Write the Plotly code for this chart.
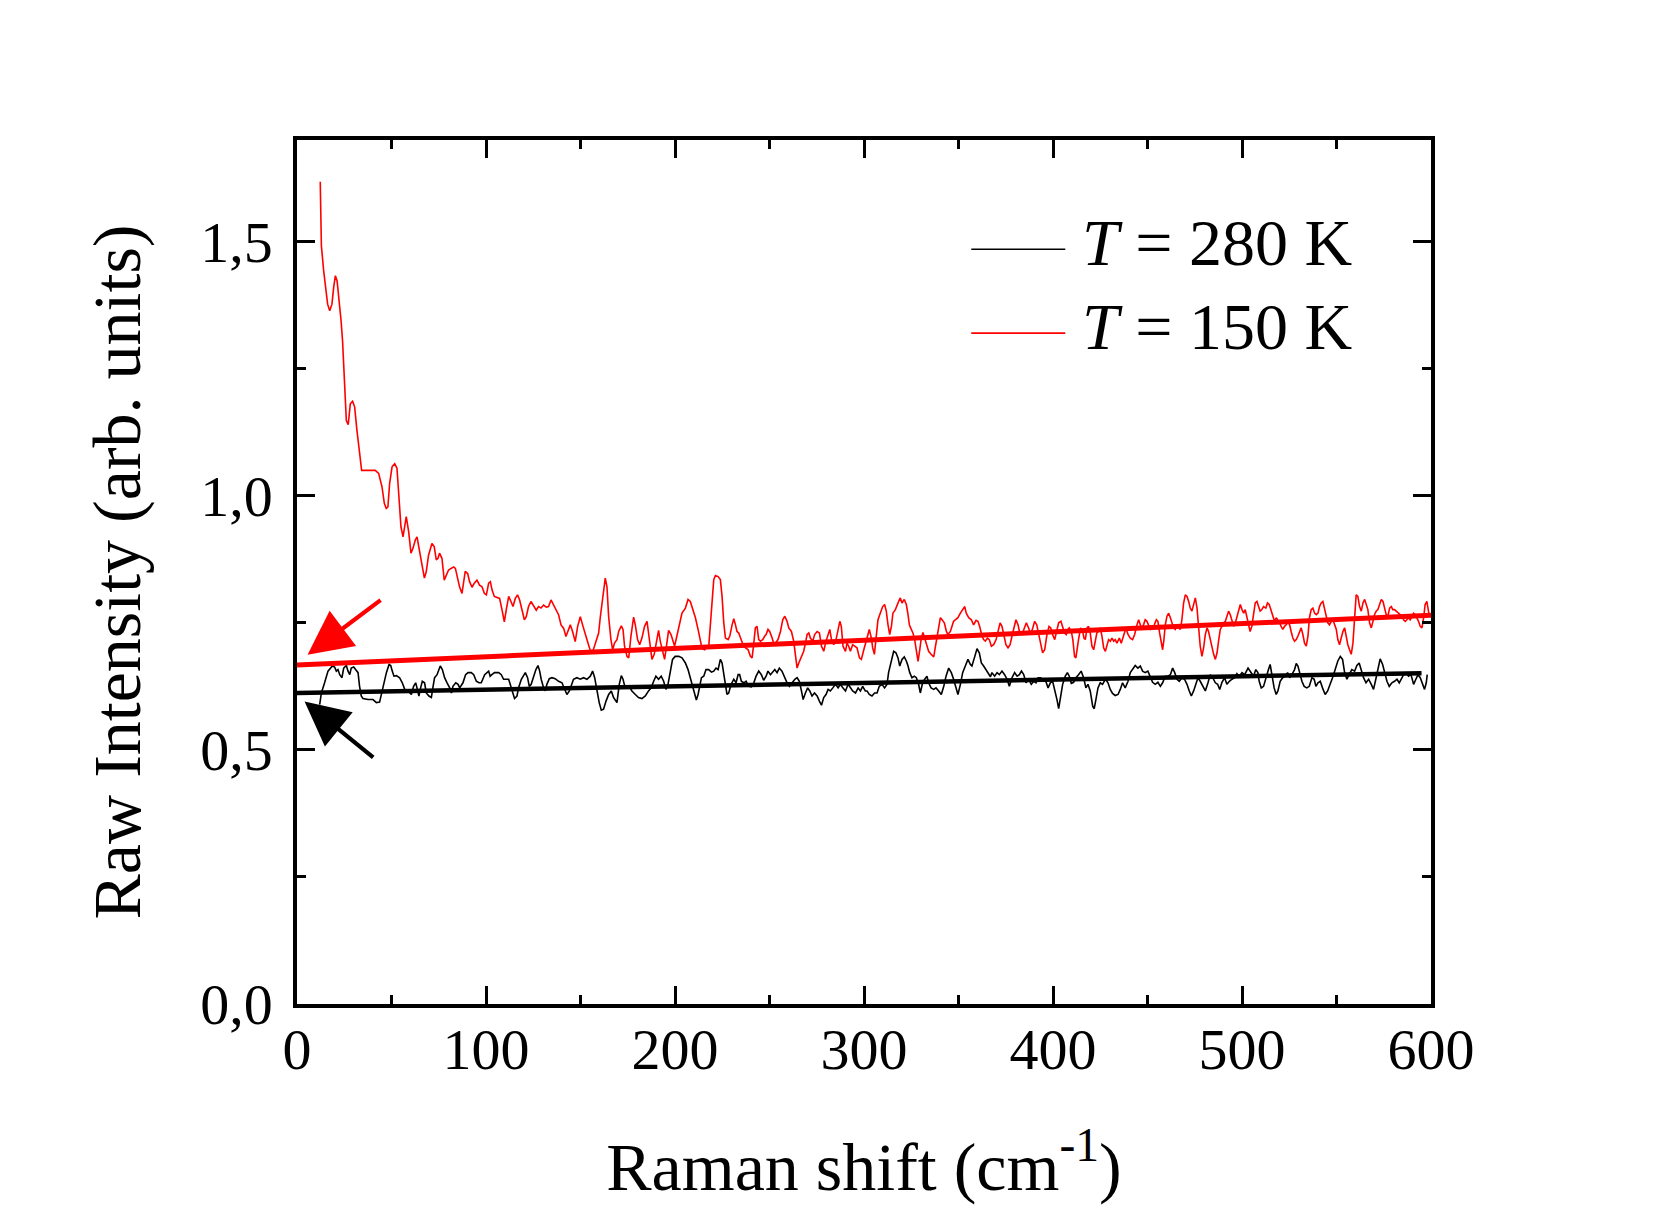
import plotly.graph_objects as go

# ---------------- data ----------------
# T = 280 K raw spectrum (x: Raman shift cm-1, y: intensity)
black_280K = [
    (12.0, 0.589), (12.9, 0.612), (14.6, 0.632), (16.4, 0.655), (18.7, 0.665), (19.9, 0.663),
    (20.8, 0.655), (21.7, 0.658), (22.6, 0.648), (23.8, 0.642), (24.7, 0.661), (26.1, 0.666),
    (27.0, 0.655), (27.9, 0.648), (28.7, 0.661), (30.0, 0.663), (31.0, 0.658), (32.3, 0.652),
    (33.1, 0.625), (34.0, 0.606), (34.9, 0.601), (37.6, 0.599), (40.2, 0.599), (42.0, 0.593),
    (43.7, 0.594), (44.6, 0.609), (45.9, 0.625), (47.3, 0.652), (48.7, 0.668), (49.6, 0.666),
    (50.4, 0.655), (51.3, 0.645), (52.6, 0.646), (54.3, 0.642), (55.7, 0.632), (57.0, 0.619),
    (58.7, 0.616), (60.5, 0.609), (61.7, 0.625), (62.8, 0.632), (63.7, 0.619), (64.5, 0.606),
    (65.2, 0.619), (66.3, 0.635), (67.5, 0.632), (68.4, 0.612), (69.8, 0.606), (71.1, 0.603),
    (72.0, 0.625), (72.8, 0.642), (74.1, 0.648), (75.8, 0.665), (76.9, 0.658), (78.1, 0.642),
    (79.4, 0.632), (80.8, 0.622), (81.7, 0.612), (82.5, 0.625), (84.0, 0.632), (85.2, 0.629),
    (86.1, 0.622), (87.8, 0.632), (89.2, 0.648), (90.5, 0.652), (92.2, 0.652), (93.5, 0.648),
    (94.9, 0.635), (96.3, 0.632), (97.5, 0.632), (99.3, 0.648), (101.4, 0.655), (102.2, 0.645),
    (103.1, 0.648), (104.5, 0.652), (106.7, 0.652), (108.1, 0.648), (109.3, 0.639), (110.5, 0.639),
    (112.0, 0.639), (112.8, 0.629), (113.7, 0.616), (115.1, 0.601), (116.4, 0.606), (117.2, 0.622),
    (118.7, 0.639), (119.9, 0.648), (120.8, 0.652), (122.0, 0.642), (122.9, 0.625), (123.9, 0.629),
    (125.2, 0.645), (126.4, 0.658), (127.5, 0.666), (128.4, 0.655), (129.2, 0.639), (130.5, 0.622),
    (131.4, 0.616), (132.2, 0.629), (133.5, 0.640), (134.9, 0.642), (136.6, 0.640), (138.4, 0.635),
    (140.2, 0.632), (141.9, 0.616), (142.8, 0.609), (144.1, 0.616), (145.1, 0.625), (146.3, 0.639),
    (148.1, 0.642), (149.9, 0.639), (151.6, 0.642), (153.4, 0.639), (155.2, 0.645), (156.4, 0.655),
    (157.5, 0.642), (158.7, 0.616), (159.9, 0.593), (161.0, 0.578), (162.2, 0.580), (163.5, 0.596),
    (164.9, 0.609), (166.3, 0.616), (167.5, 0.603), (169.3, 0.593), (170.5, 0.629), (171.6, 0.646),
    (172.5, 0.639), (173.3, 0.627), (174.6, 0.622), (175.8, 0.625), (177.2, 0.616), (179.0, 0.609),
    (180.7, 0.603), (182.5, 0.601), (184.3, 0.606), (186.0, 0.616), (187.4, 0.622), (188.7, 0.635),
    (189.9, 0.645), (191.3, 0.639), (192.7, 0.645), (194.0, 0.635), (195.2, 0.619), (196.3, 0.629),
    (197.5, 0.658), (198.7, 0.678), (200.1, 0.684), (202.0, 0.684), (203.7, 0.681), (205.5, 0.671),
    (206.9, 0.658), (208.1, 0.642), (209.4, 0.622), (210.4, 0.606), (211.3, 0.598), (212.2, 0.609),
    (212.9, 0.625), (214.0, 0.642), (215.2, 0.645), (216.4, 0.658), (217.8, 0.658), (219.3, 0.653),
    (220.5, 0.655), (221.7, 0.661), (222.8, 0.658), (224.0, 0.678), (224.9, 0.671), (225.8, 0.648),
    (226.7, 0.622), (227.5, 0.609), (228.4, 0.612), (229.7, 0.629), (231.1, 0.639), (232.3, 0.632),
    (233.4, 0.648), (234.2, 0.648), (235.1, 0.635), (236.4, 0.632), (237.6, 0.635), (239.0, 0.625),
    (240.4, 0.624), (241.7, 0.632), (242.9, 0.645), (244.3, 0.655), (245.7, 0.648), (246.9, 0.637),
    (248.2, 0.645), (249.2, 0.655), (250.5, 0.648), (251.4, 0.652), (252.8, 0.658), (254.0, 0.652),
    (255.2, 0.661), (256.6, 0.655), (258.1, 0.642), (259.3, 0.632), (260.5, 0.625), (261.9, 0.633),
    (263.4, 0.639), (264.6, 0.642), (265.8, 0.635), (266.9, 0.616), (267.8, 0.599), (269.0, 0.612),
    (270.2, 0.622), (271.3, 0.616), (272.5, 0.606), (273.8, 0.612), (275.2, 0.606), (276.4, 0.596),
    (277.5, 0.588), (278.7, 0.603), (279.9, 0.609), (281.0, 0.619), (282.2, 0.616), (283.5, 0.622),
    (284.9, 0.629), (286.3, 0.622), (287.5, 0.629), (288.8, 0.622), (290.2, 0.616), (291.6, 0.629),
    (292.8, 0.622), (294.0, 0.616), (295.5, 0.612), (296.9, 0.622), (298.1, 0.616), (299.3, 0.625),
    (300.7, 0.616), (301.6, 0.616), (302.8, 0.609), (304.2, 0.606), (305.6, 0.612), (306.9, 0.612),
    (308.1, 0.625), (309.5, 0.629), (310.9, 0.622), (312.2, 0.629), (313.0, 0.652), (314.5, 0.678),
    (315.7, 0.694), (316.9, 0.691), (318.0, 0.681), (318.9, 0.665), (320.1, 0.678), (321.3, 0.683),
    (322.4, 0.675), (323.3, 0.665), (324.2, 0.652), (325.4, 0.642), (326.6, 0.645), (327.7, 0.642),
    (328.9, 0.629), (329.8, 0.612), (331.0, 0.632), (332.1, 0.639), (333.3, 0.645), (334.2, 0.632),
    (335.5, 0.622), (336.9, 0.619), (338.1, 0.622), (339.5, 0.616), (340.9, 0.609), (342.2, 0.625),
    (343.4, 0.645), (344.8, 0.661), (346.2, 0.652), (347.4, 0.639), (348.7, 0.619), (349.7, 0.609),
    (351.0, 0.629), (352.2, 0.652), (353.6, 0.665), (355.0, 0.678), (356.3, 0.668), (357.1, 0.665),
    (358.4, 0.681), (359.8, 0.699), (361.0, 0.691), (362.1, 0.671), (363.3, 0.665), (364.6, 0.658),
    (365.6, 0.652), (366.9, 0.644), (367.7, 0.652), (369.1, 0.645), (370.4, 0.652), (371.6, 0.648),
    (373.0, 0.655), (374.4, 0.648), (375.7, 0.639), (376.9, 0.625), (378.3, 0.642), (379.7, 0.652),
    (381.0, 0.645), (382.2, 0.648), (383.3, 0.655), (384.5, 0.648), (385.7, 0.632), (387.1, 0.639),
    (388.5, 0.629), (389.8, 0.635), (391.0, 0.632), (392.1, 0.642), (393.3, 0.642), (394.5, 0.639),
    (396.0, 0.637), (397.4, 0.622), (398.6, 0.632), (399.8, 0.635), (400.9, 0.619), (402.1, 0.599),
    (403.0, 0.581), (403.8, 0.599), (405.1, 0.629), (406.5, 0.645), (407.6, 0.652), (408.6, 0.645),
    (409.7, 0.631), (410.9, 0.633), (412.1, 0.642), (413.5, 0.648), (414.9, 0.655), (416.2, 0.642),
    (417.4, 0.622), (418.5, 0.629), (419.7, 0.616), (421.0, 0.586), (421.8, 0.581), (422.7, 0.599),
    (423.8, 0.622), (425.0, 0.632), (426.2, 0.629), (427.7, 0.639), (429.1, 0.632), (430.3, 0.619),
    (431.5, 0.611), (432.9, 0.607), (434.4, 0.609), (435.6, 0.619), (436.8, 0.632), (438.2, 0.622),
    (439.7, 0.635), (440.9, 0.652), (442.1, 0.658), (443.5, 0.666), (444.9, 0.661), (446.2, 0.665),
    (447.4, 0.655), (448.8, 0.652), (450.2, 0.655), (451.5, 0.645), (452.7, 0.633), (454.1, 0.629),
    (455.5, 0.633), (456.8, 0.625), (458.0, 0.632), (459.4, 0.645), (460.8, 0.645), (462.1, 0.648),
    (463.3, 0.661), (464.4, 0.652), (465.6, 0.639), (466.8, 0.635), (468.2, 0.642), (469.6, 0.639),
    (470.9, 0.629), (472.1, 0.616), (473.2, 0.606), (474.4, 0.616), (475.6, 0.632), (476.7, 0.642),
    (477.9, 0.635), (479.2, 0.625), (480.6, 0.616), (482.0, 0.632), (483.2, 0.648), (484.5, 0.642),
    (485.9, 0.632), (487.1, 0.629), (488.2, 0.619), (489.4, 0.633), (490.8, 0.642), (492.0, 0.629),
    (493.3, 0.635), (494.7, 0.639), (496.1, 0.642), (497.3, 0.650), (498.6, 0.645), (500.0, 0.652),
    (501.4, 0.648), (503.2, 0.661), (504.9, 0.653), (506.1, 0.645), (507.3, 0.658), (508.4, 0.652),
    (509.1, 0.635), (510.2, 0.622), (511.4, 0.625), (512.6, 0.642), (514.0, 0.658), (514.9, 0.668),
    (515.8, 0.648), (517.0, 0.622), (518.1, 0.609), (519.0, 0.616), (520.2, 0.635), (521.5, 0.642),
    (522.9, 0.645), (524.1, 0.652), (525.2, 0.642), (526.4, 0.648), (527.8, 0.658), (528.7, 0.670),
    (529.6, 0.665), (530.5, 0.652), (531.7, 0.635), (532.9, 0.625), (534.3, 0.622), (535.6, 0.625),
    (537.0, 0.642), (538.2, 0.639), (539.1, 0.625), (540.2, 0.632), (541.4, 0.635), (542.6, 0.622),
    (544.0, 0.609), (545.3, 0.616), (546.7, 0.629), (547.9, 0.642), (549.3, 0.658), (550.7, 0.675),
    (552.0, 0.684), (553.2, 0.678), (554.3, 0.652), (555.5, 0.639), (556.7, 0.648), (558.1, 0.658),
    (559.6, 0.655), (560.8, 0.666), (562.0, 0.671), (563.1, 0.658), (564.3, 0.642), (565.6, 0.632),
    (567.0, 0.639), (568.4, 0.629), (569.6, 0.619), (570.8, 0.639), (571.9, 0.661), (573.1, 0.679),
    (574.4, 0.668), (575.4, 0.652), (576.7, 0.635), (577.9, 0.625), (579.3, 0.632), (580.7, 0.635),
    (582.0, 0.639), (583.2, 0.632), (584.3, 0.639), (585.5, 0.648), (586.7, 0.652), (588.1, 0.645),
    (589.4, 0.648), (590.8, 0.629), (592.0, 0.639), (593.1, 0.648), (594.3, 0.642), (595.5, 0.629),
    (596.6, 0.619), (597.5, 0.632), (598.0, 0.648),
]

# T = 150 K raw spectrum
red_150K = [
    (12.3, 1.618), (12.5, 1.541), (12.9, 1.492), (14.1, 1.443), (15.3, 1.400), (16.2, 1.377),
    (17.3, 1.364), (18.5, 1.377), (19.4, 1.410), (20.3, 1.433), (21.2, 1.423), (22.0, 1.397),
    (23.3, 1.345), (24.1, 1.305), (24.7, 1.247), (25.4, 1.181), (26.1, 1.148), (27.1, 1.140),
    (28.2, 1.181), (29.4, 1.186), (30.5, 1.175), (31.7, 1.129), (33.0, 1.090), (34.2, 1.050),
    (37.0, 1.050), (41.4, 1.050), (43.2, 1.044), (45.0, 1.017), (46.2, 0.985), (47.2, 0.975),
    (48.1, 0.978), (49.0, 1.024), (50.3, 1.057), (51.7, 1.063), (52.9, 1.054), (53.8, 1.005),
    (55.0, 0.939), (56.1, 0.919), (56.9, 0.942), (57.8, 0.959), (59.1, 0.929), (60.3, 0.887),
    (61.4, 0.897), (62.6, 0.913), (63.5, 0.919), (64.9, 0.890), (66.1, 0.864), (67.4, 0.838),
    (68.4, 0.851), (69.6, 0.883), (71.4, 0.906), (72.6, 0.900), (73.7, 0.874), (74.6, 0.877),
    (75.4, 0.887), (76.7, 0.877), (77.9, 0.834), (79.0, 0.844), (80.2, 0.854), (81.5, 0.857),
    (82.9, 0.860), (83.8, 0.857), (84.7, 0.841), (86.0, 0.821), (87.3, 0.808), (88.1, 0.834),
    (89.0, 0.851), (90.3, 0.847), (91.3, 0.831), (92.6, 0.820), (93.8, 0.828), (95.2, 0.834),
    (96.6, 0.824), (97.9, 0.821), (99.1, 0.808), (100.2, 0.805), (101.4, 0.828), (102.3, 0.831),
    (103.2, 0.815), (104.4, 0.802), (105.8, 0.800), (107.2, 0.798), (108.5, 0.775), (109.7, 0.752),
    (110.7, 0.775), (112.0, 0.802), (113.2, 0.792), (114.3, 0.782), (115.5, 0.798), (116.7, 0.805),
    (117.8, 0.795), (119.0, 0.775), (120.3, 0.756), (121.3, 0.762), (122.5, 0.782), (123.8, 0.792),
    (125.2, 0.782), (126.6, 0.775), (127.8, 0.782), (129.1, 0.779), (130.5, 0.785), (131.9, 0.781),
    (133.1, 0.782), (134.4, 0.795), (135.8, 0.785), (137.2, 0.775), (138.4, 0.766), (139.7, 0.746),
    (141.1, 0.739), (142.3, 0.723), (143.4, 0.736), (144.6, 0.746), (145.8, 0.733), (147.2, 0.713),
    (148.5, 0.743), (149.9, 0.762), (151.1, 0.746), (152.2, 0.730), (153.4, 0.717), (154.8, 0.700),
    (156.1, 0.690), (157.3, 0.703), (158.7, 0.717), (159.6, 0.730), (160.5, 0.762), (161.9, 0.808),
    (163.1, 0.838), (164.0, 0.821), (164.9, 0.762), (166.1, 0.717), (167.0, 0.697), (168.0, 0.710),
    (169.3, 0.717), (170.2, 0.733), (171.6, 0.744), (172.5, 0.737), (173.3, 0.704), (174.6, 0.684),
    (175.5, 0.681), (176.7, 0.724), (178.1, 0.761), (179.0, 0.746), (180.2, 0.717), (181.3, 0.707),
    (182.5, 0.720), (183.9, 0.743), (185.2, 0.753), (186.0, 0.730), (186.9, 0.697), (187.8, 0.678),
    (189.0, 0.688), (190.1, 0.710), (191.3, 0.735), (192.2, 0.714), (193.4, 0.697), (194.5, 0.678),
    (195.7, 0.710), (196.6, 0.735), (197.9, 0.727), (198.9, 0.717), (199.8, 0.704), (201.0, 0.724),
    (202.3, 0.746), (203.7, 0.769), (205.5, 0.779), (206.9, 0.796), (208.1, 0.792), (209.4, 0.776),
    (210.8, 0.760), (212.2, 0.737), (213.4, 0.714), (214.3, 0.699), (215.7, 0.697), (217.0, 0.703),
    (217.8, 0.701), (218.7, 0.743), (219.6, 0.789), (220.5, 0.835), (221.4, 0.843), (222.8, 0.841),
    (224.0, 0.835), (224.9, 0.802), (225.8, 0.750), (226.7, 0.720), (228.1, 0.717), (229.0, 0.724),
    (230.2, 0.746), (231.1, 0.758), (232.0, 0.746), (232.8, 0.733), (233.7, 0.730), (234.8, 0.717),
    (236.0, 0.707), (237.2, 0.701), (238.7, 0.697), (239.9, 0.684), (240.8, 0.681), (241.7, 0.710),
    (242.5, 0.740), (243.4, 0.743), (244.3, 0.717), (245.2, 0.714), (246.4, 0.717), (247.5, 0.724),
    (248.2, 0.727), (249.2, 0.737), (250.1, 0.733), (251.4, 0.720), (252.2, 0.710), (253.1, 0.710),
    (254.5, 0.717), (255.8, 0.733), (257.0, 0.756), (258.1, 0.763), (259.3, 0.753), (260.2, 0.740),
    (261.6, 0.733), (262.8, 0.714), (263.7, 0.691), (264.6, 0.661), (265.5, 0.671), (266.9, 0.684),
    (268.1, 0.694), (269.0, 0.710), (269.9, 0.727), (270.8, 0.730), (271.6, 0.720), (272.9, 0.714),
    (273.9, 0.727), (275.2, 0.733), (276.4, 0.730), (277.5, 0.704), (278.7, 0.694), (279.9, 0.714),
    (281.0, 0.727), (281.9, 0.737), (282.8, 0.717), (284.0, 0.707), (285.2, 0.717), (286.3, 0.737),
    (287.2, 0.753), (288.0, 0.743), (288.9, 0.704), (290.2, 0.694), (291.0, 0.710), (291.9, 0.704),
    (292.8, 0.694), (294.0, 0.707), (295.1, 0.704), (296.3, 0.701), (297.6, 0.681), (298.6, 0.678),
    (299.9, 0.697), (301.1, 0.717), (302.1, 0.727), (302.8, 0.737), (303.9, 0.720), (304.6, 0.701),
    (305.5, 0.688), (306.3, 0.717), (307.4, 0.756), (308.6, 0.769), (309.9, 0.782), (310.9, 0.786),
    (311.8, 0.773), (312.7, 0.746), (313.6, 0.727), (314.5, 0.743), (315.3, 0.769), (316.6, 0.776),
    (317.5, 0.786), (318.3, 0.792), (319.2, 0.799), (320.1, 0.789), (321.3, 0.796), (322.4, 0.786),
    (323.3, 0.766), (324.0, 0.746), (325.0, 0.737), (325.9, 0.730), (326.8, 0.717), (327.7, 0.691),
    (328.6, 0.674), (329.5, 0.697), (330.3, 0.720), (331.2, 0.731), (332.1, 0.720), (333.0, 0.704),
    (334.2, 0.694), (335.5, 0.688), (336.9, 0.683), (337.7, 0.701), (338.6, 0.724), (339.5, 0.746),
    (340.4, 0.760), (341.3, 0.756), (342.5, 0.750), (343.6, 0.733), (344.4, 0.727), (345.7, 0.733),
    (346.6, 0.746), (347.4, 0.753), (348.3, 0.756), (349.7, 0.760), (351.0, 0.769), (352.2, 0.776),
    (353.3, 0.782), (354.1, 0.769), (355.4, 0.760), (356.8, 0.756), (358.0, 0.746), (359.3, 0.755),
    (360.3, 0.753), (361.2, 0.743), (362.4, 0.724), (363.3, 0.717), (364.2, 0.714), (365.3, 0.720),
    (366.3, 0.717), (367.4, 0.704), (368.6, 0.707), (369.9, 0.717), (370.9, 0.733), (372.0, 0.750),
    (373.0, 0.743), (374.1, 0.720), (375.1, 0.707), (376.2, 0.701), (377.3, 0.707), (378.3, 0.724),
    (379.4, 0.743), (380.4, 0.756), (381.5, 0.746), (382.4, 0.730), (383.6, 0.727), (384.8, 0.740),
    (385.9, 0.750), (387.1, 0.740), (388.2, 0.727), (389.3, 0.740), (390.3, 0.753), (391.4, 0.746),
    (392.4, 0.727), (393.5, 0.707), (394.5, 0.691), (395.6, 0.697), (396.8, 0.727), (397.9, 0.743),
    (398.8, 0.740), (399.8, 0.727), (400.9, 0.717), (401.9, 0.733), (403.0, 0.750), (404.2, 0.753),
    (405.1, 0.743), (406.1, 0.730), (407.0, 0.727), (407.9, 0.737), (408.6, 0.740), (409.7, 0.733),
    (410.5, 0.717), (411.4, 0.684), (412.1, 0.681), (412.8, 0.704), (413.5, 0.717), (414.6, 0.740),
    (415.7, 0.733), (416.4, 0.720), (417.1, 0.717), (418.0, 0.740), (418.8, 0.743), (419.7, 0.730),
    (420.6, 0.704), (421.5, 0.697), (422.4, 0.714), (423.2, 0.730), (424.1, 0.733), (425.0, 0.740),
    (425.9, 0.724), (426.8, 0.701), (427.7, 0.694), (428.5, 0.707), (429.4, 0.717), (430.3, 0.714),
    (431.2, 0.720), (432.1, 0.714), (432.9, 0.717), (433.8, 0.710), (435.1, 0.720), (436.1, 0.710),
    (437.0, 0.720), (437.9, 0.730), (438.6, 0.740), (439.7, 0.727), (440.9, 0.720), (442.1, 0.717),
    (443.2, 0.727), (444.2, 0.743), (445.3, 0.756), (446.2, 0.746), (447.1, 0.740), (447.9, 0.746),
    (448.8, 0.756), (449.7, 0.753), (450.6, 0.743), (451.5, 0.737), (452.4, 0.740), (453.6, 0.746),
    (454.7, 0.756), (455.5, 0.753), (456.4, 0.730), (457.3, 0.707), (458.0, 0.697), (458.7, 0.717),
    (459.4, 0.746), (460.3, 0.763), (461.2, 0.769), (462.1, 0.760), (462.9, 0.750), (463.8, 0.740),
    (464.7, 0.737), (465.6, 0.743), (466.5, 0.740), (467.4, 0.737), (468.2, 0.756), (469.1, 0.789),
    (470.0, 0.805), (470.9, 0.802), (471.8, 0.792), (472.6, 0.779), (473.5, 0.773), (474.4, 0.789),
    (475.3, 0.799), (476.2, 0.779), (477.1, 0.737), (477.9, 0.704), (478.8, 0.684), (479.7, 0.701),
    (480.6, 0.727), (481.5, 0.740), (482.3, 0.733), (483.2, 0.717), (484.1, 0.704), (485.0, 0.688),
    (485.9, 0.678), (486.8, 0.691), (487.6, 0.714), (488.5, 0.737), (489.4, 0.743), (490.3, 0.750),
    (491.2, 0.753), (492.0, 0.763), (492.9, 0.773), (493.8, 0.766), (494.7, 0.753), (495.6, 0.743),
    (496.5, 0.750), (497.3, 0.760), (498.2, 0.776), (499.1, 0.786), (500.0, 0.776), (500.9, 0.769),
    (501.7, 0.776), (502.6, 0.760), (503.1, 0.756), (504.3, 0.733), (505.2, 0.743), (506.1, 0.769),
    (507.0, 0.789), (507.9, 0.792), (508.8, 0.782), (509.6, 0.773), (510.5, 0.776), (511.4, 0.782),
    (512.6, 0.779), (513.5, 0.789), (514.4, 0.786), (515.5, 0.773), (516.3, 0.760), (517.2, 0.753),
    (518.1, 0.760), (519.0, 0.756), (519.9, 0.750), (520.7, 0.743), (521.6, 0.737), (522.5, 0.743),
    (523.4, 0.746), (524.3, 0.753), (525.2, 0.746), (526.0, 0.733), (526.9, 0.720), (527.8, 0.714),
    (528.7, 0.717), (529.6, 0.724), (530.5, 0.733), (531.3, 0.740), (532.2, 0.727), (533.1, 0.710),
    (534.0, 0.704), (534.9, 0.724), (535.7, 0.760), (536.6, 0.776), (537.5, 0.779), (538.4, 0.769),
    (539.3, 0.766), (540.2, 0.769), (541.0, 0.782), (541.9, 0.789), (542.8, 0.792), (543.7, 0.776),
    (544.6, 0.760), (545.4, 0.750), (546.3, 0.746), (547.2, 0.753), (548.1, 0.756), (549.0, 0.746),
    (549.9, 0.737), (550.7, 0.717), (551.6, 0.707), (552.5, 0.720), (553.4, 0.733), (554.3, 0.740),
    (555.1, 0.724), (556.0, 0.707), (556.9, 0.697), (557.8, 0.688), (558.7, 0.710), (559.6, 0.763),
    (560.4, 0.805), (561.3, 0.802), (562.2, 0.782), (563.1, 0.773), (564.0, 0.789), (564.9, 0.796),
    (565.7, 0.786), (566.6, 0.776), (567.5, 0.750), (568.4, 0.740), (569.3, 0.753), (570.1, 0.766),
    (571.0, 0.773), (571.9, 0.776), (572.8, 0.786), (573.7, 0.796), (574.6, 0.792), (575.4, 0.779),
    (576.3, 0.766), (577.2, 0.763), (578.1, 0.779), (579.0, 0.782), (579.8, 0.776), (580.7, 0.776),
    (581.6, 0.773), (582.8, 0.769), (583.7, 0.766), (584.6, 0.763), (585.5, 0.756), (586.4, 0.753),
    (587.2, 0.756), (588.1, 0.760), (589.0, 0.756), (589.9, 0.763), (590.8, 0.769), (591.7, 0.766),
    (592.5, 0.760), (593.4, 0.753), (594.3, 0.743), (595.2, 0.740), (596.1, 0.760), (596.9, 0.786),
    (597.8, 0.792), (598.4, 0.776), (599.1, 0.763),
]

# linear background lines (end points)
fit_280K_x = [0, 595]
fit_280K_y = [0.612, 0.651]
fit_150K_x = [0, 602]
fit_150K_y = [0.667, 0.765]

# arrows: (tip_x, tip_y, tail_x, tail_y)
arrow_150K = (5.6, 0.687, 45.0, 0.797)
arrow_280K = (4.0, 0.595, 41.1, 0.483)

legend_labels = ["<i>T</i> = 280 K", "<i>T</i> = 150 K"]
series_colors = ["black", "#ff0000"]

x_ticks = [0, 100, 200, 300, 400, 500, 600]
y_ticks = [0.0, 0.5, 1.0, 1.5]

# ---------------- figure ----------------
FONT = "Liberation Serif, Times New Roman, serif"

fig = go.Figure()

bx, by = zip(*black_280K)
rx, ry = zip(*red_150K)

fig.add_trace(go.Scatter(x=bx, y=by, mode="lines", line=dict(color=series_colors[0], width=1.6),
                         name="T = 280 K", showlegend=False))
fig.add_trace(go.Scatter(x=rx, y=ry, mode="lines", line=dict(color=series_colors[1], width=1.6),
                         name="T = 150 K", showlegend=False))
fig.add_trace(go.Scatter(x=fit_280K_x, y=fit_280K_y, mode="lines",
                         line=dict(color=series_colors[0], width=4.5), showlegend=False))
fig.add_trace(go.Scatter(x=fit_150K_x, y=fit_150K_y, mode="lines",
                         line=dict(color=series_colors[1], width=5), showlegend=False))

for (tx, ty, ax, ay), col in [(arrow_150K, series_colors[1]), (arrow_280K, series_colors[0])]:
    fig.add_annotation(x=tx, y=ty, ax=ax, ay=ay, xref="x", yref="y", axref="x", ayref="y",
                       text="", showarrow=True, arrowhead=2, arrowsize=2.1, arrowwidth=4.2,
                       arrowcolor=col)

# manual legend
leg_line_y = [0.8735, 0.7765]
leg_text_y = [0.8815, 0.7845]
for lbl, col, ly, tyy in zip(legend_labels, series_colors, leg_line_y, leg_text_y):
    fig.add_shape(type="line", xref="paper", yref="paper", x0=0.5946, x1=0.6775, y0=ly, y1=ly,
                  line=dict(color=col, width=1.6))
    fig.add_annotation(x=0.6905, y=tyy, xref="paper", yref="paper", text=lbl, showarrow=False,
                       xanchor="left", yanchor="middle", font=dict(family=FONT, size=66, color="black"))

axis_common = dict(
    showline=True, linecolor="black", linewidth=3.5, mirror="allticks",
    ticks="inside", ticklen=18, tickwidth=3, tickcolor="black",
    showgrid=False, zeroline=False,
    tickfont=dict(family=FONT, size=58, color="black"),
    title_font=dict(family=FONT, size=68, color="black"),
    automargin=False,
)

fig.update_xaxes(range=[0, 600], tickvals=x_ticks,
                 minor=dict(ticks="inside", ticklen=9, tickwidth=3, tickcolor="black", dtick=50, tick0=0),
                 title_text="Raman shift (cm<sup>-1</sup>)", title_standoff=66, ticklabelstandoff=-8,
                 **axis_common)
fig.update_yaxes(range=[0, 1.7], tickvals=y_ticks, tickformat=".1f",
                 minor=dict(ticks="inside", ticklen=9, tickwidth=3, tickcolor="black", dtick=0.25, tick0=0),
                 title_text="Raw Intensity (arb. units)", title_standoff=38, ticklabelstandoff=9,
                 **axis_common)

fig.update_layout(
    width=1661, height=1205,
    margin=dict(l=297, r=230, t=140, b=201),
    paper_bgcolor="white", plot_bgcolor="white",
    separators=",.",
    font=dict(family=FONT, color="black"),
    showlegend=False,
)

fig.write_html("out.html")
